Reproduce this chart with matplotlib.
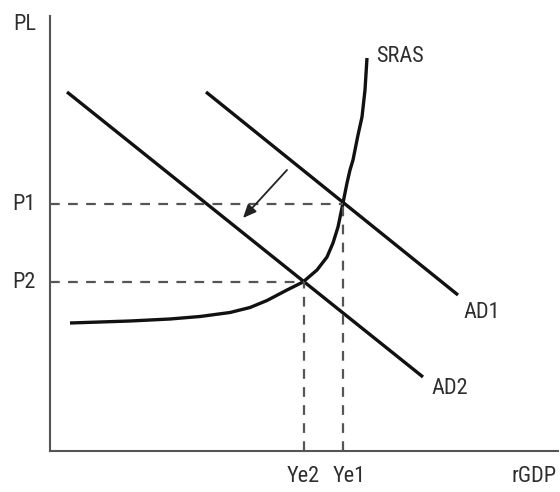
import matplotlib
matplotlib.use("Agg")
import matplotlib.pyplot as plt

plt.rcParams['font.family'] = ['Roboto Condensed', 'Liberation Sans Narrow', 'Liberation Sans', 'DejaVu Sans']
plt.rcParams['lines.scale_dashes'] = False

# Data (schematic units)
ad1_x = [15.6, 40.8]
ad1_y = [35.9, 15.6]
ad2_x = [1.7, 37.3]
ad2_y = [35.9, 7.4]
sras_x = [2.0, 8.0, 12.0, 15.0, 18.0, 20.0, 21.7, 23.7, 25.3, 26.7, 27.7, 28.3, 28.8,
          29.3, 29.7, 30.0, 30.3, 30.8, 31.2, 31.5, 31.7]
sras_y = [12.8, 13.0, 13.2, 13.45, 13.85, 14.35, 15.05, 16.1, 16.9, 18.1, 19.4, 20.8, 22.4,
          24.8, 26.8, 28.1, 29.1, 31.6, 33.4, 36.1, 39.3]
price_levels = {"P1": 24.7, "P2": 16.9}
outputs = {"Ye1": 29.3, "Ye2": 25.4}
arrow_start = (23.7, 28.1)
arrow_end = (19.3, 23.3)

fig = plt.figure(figsize=(5.6, 4.92), dpi=100)
ax = fig.add_axes([50/560, 41/492, 508/560, 435/492])
ax.set_xlim(0, 50.8)
ax.set_ylim(0, 43.5)
for s in ['top', 'right']:
    ax.spines[s].set_visible(False)
for s in ['left', 'bottom']:
    ax.spines[s].set_color('#555555')
    ax.spines[s].set_linewidth(1.5)
ax.set_xticks([])
ax.set_yticks([])

lc = '#111111'
ax.plot(ad1_x, ad1_y, color=lc, lw=2.4, solid_capstyle='butt')
ax.plot(ad2_x, ad2_y, color=lc, lw=2.4, solid_capstyle='butt')
ax.plot(sras_x, sras_y, color=lc, lw=2.4, solid_capstyle='butt', solid_joinstyle='round')

dc = '#555555'
for name, p in price_levels.items():
    ye = outputs["Ye1"] if name == "P1" else outputs["Ye2"]
    ax.plot([0, ye], [p, p], color=dc, lw=1.6, dashes=(7, 6))
for name, x in outputs.items():
    p = price_levels["P1"] if name == "Ye1" else price_levels["P2"]
    ax.plot([x, x], [0, p], color=dc, lw=1.6, dashes=(7, 6))

ax.annotate('', xy=arrow_end, xytext=arrow_start,
            arrowprops=dict(arrowstyle='-|>,head_length=0.8,head_width=0.35',
                            color='#222222', lw=1.3, shrinkA=0, shrinkB=0))

fs = 16
tc = '#2e2e2e'
kw = dict(fontsize=fs, color=tc, va='center', clip_on=False)
ax.text(-2.5, 42.6, 'PL', ha='center', **kw)
ax.text(-2.6, price_levels["P1"], 'P1', ha='center', **kw)
ax.text(-2.6, price_levels["P2"], 'P2', ha='center', **kw)
ax.text(35.0, 39.4, 'SRAS', ha='center', **kw)
ax.text(43.2, 13.9, 'AD1', ha='center', **kw)
ax.text(40.0, 6.3, 'AD2', ha='center', **kw)
ax.text(25.3, -2.6, 'Ye2', ha='center', **kw)
ax.text(29.9, -2.6, 'Ye1', ha='center', **kw)
ax.text(50.7, -2.6, 'rGDP', ha='right', **kw)

fig.savefig('out.png', dpi=100, facecolor='white')
